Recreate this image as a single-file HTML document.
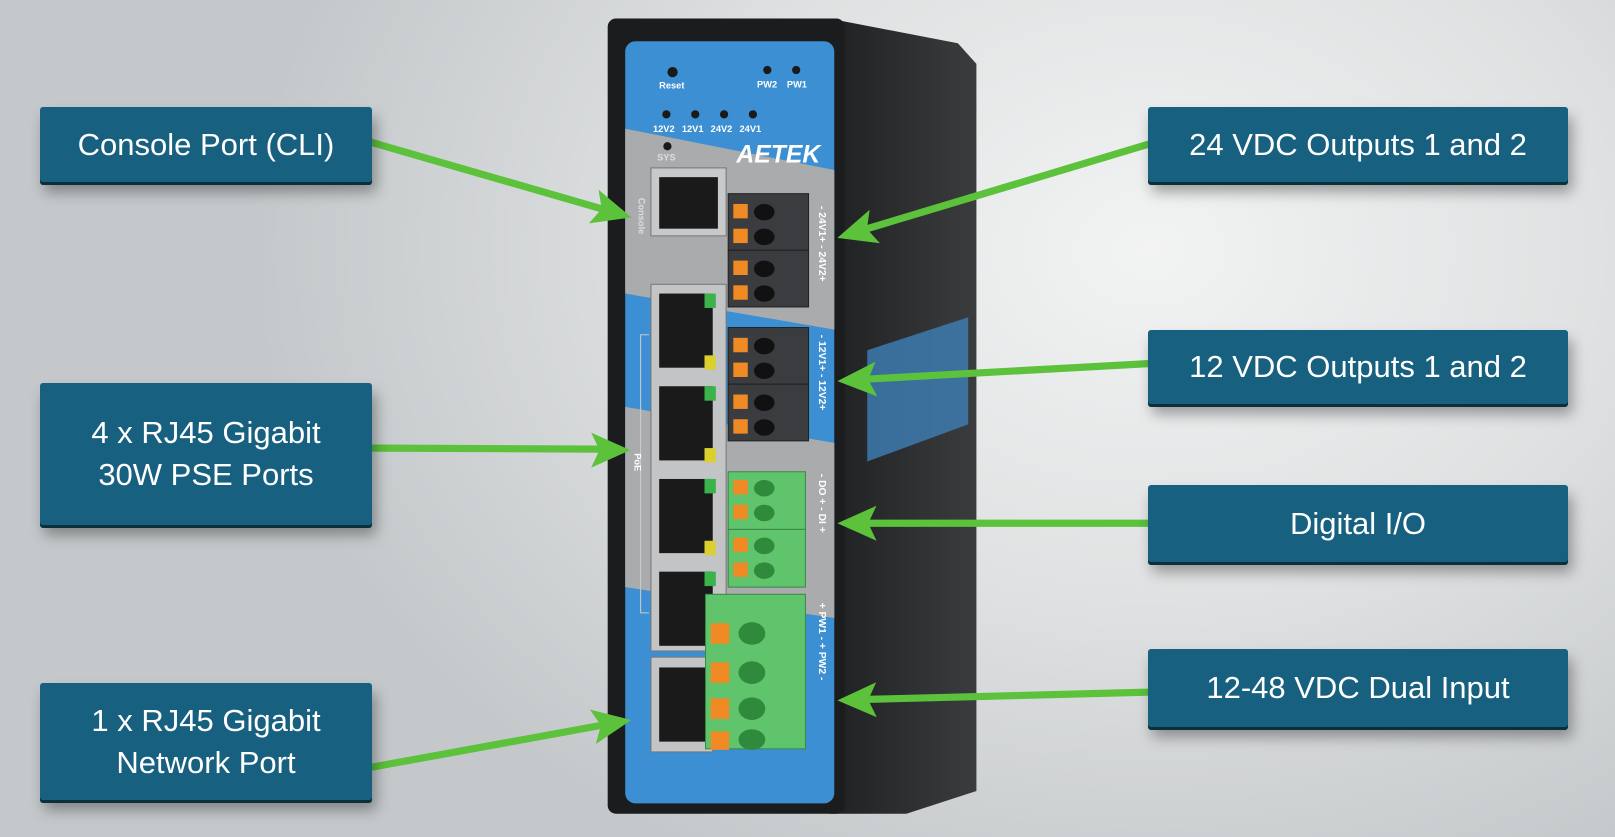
<!DOCTYPE html>
<html><head><meta charset="utf-8"><style>
html,body{margin:0;padding:0}
body{width:1615px;height:837px;position:relative;overflow:hidden;
background:radial-gradient(ellipse 900px 700px at 1150px 250px,#f2f3f3 0%,#dfe1e2 50%,#c4c8ca 100%);
font-family:"Liberation Sans",sans-serif}
svg{position:absolute;left:0;top:0}
.b{position:absolute;background:#17607f;color:#fff;font-size:31px;display:flex;align-items:center;justify-content:center;text-align:center;line-height:42px;border-radius:3px;box-shadow:0 3px 0 #0c2f3d,4px 10px 14px rgba(0,0,0,.35)}
</style></head><body>
<svg width="1615" height="837" viewBox="0 0 1568 812.6" preserveAspectRatio="none">
<defs>
<linearGradient id="side" x1="0" x2="1"><stop offset="0" stop-color="#1e2022"/><stop offset="1" stop-color="#3a3c3e"/></linearGradient>
<marker id="ah" markerWidth="10" markerHeight="10" refX="9" refY="5" orient="auto" markerUnits="userSpaceOnUse" viewBox="0 0 10 10" style="overflow:visible">
</marker>
</defs>
<!-- side body -->
<polygon points="805,18 930,42 948,62 948,768 880,790 805,790" fill="url(#side)"/>
<polygon points="842,340 940,308 940,412 842,448" fill="#3f7fb8" opacity=".8"/>
<!-- bezel -->
<rect x="590" y="18" width="230" height="772" rx="8" fill="#1b1c1e"/>
<!-- blue panel -->
<rect x="607" y="40" width="203" height="740" rx="10" fill="#3c8fd2"/>
<polygon points="607,125 810,165 810,320 607,285" fill="#a9abad"/>
<polygon points="607,395 810,430 810,600 607,570" fill="#a9abad"/>
<!-- LEDs -->
<g fill="#1a1a1a"><circle cx="653" cy="70" r="5"/><circle cx="745" cy="68" r="4"/><circle cx="773" cy="68" r="4"/>
<circle cx="647" cy="111" r="4"/><circle cx="675" cy="111" r="4"/><circle cx="703" cy="111" r="4"/><circle cx="731" cy="111" r="4"/><circle cx="648" cy="142" r="4"/></g>
<g fill="#fff" font-family="Liberation Sans" font-size="9" font-weight="bold">
<text x="640" y="86">Reset</text><text x="735" y="85">PW2</text><text x="764" y="85">PW1</text>
<text x="634" y="128">12V2</text><text x="662" y="128">12V1</text><text x="690" y="128">24V2</text><text x="718" y="128">24V1</text>
<text x="638" y="156" fill="#ddd">SYS</text>
<text x="715" y="158" font-size="24" font-style="italic">AETEK</text></g>
<!-- console port -->
<rect x="632" y="163" width="73" height="66" fill="#c8c9ca" stroke="#777"/>
<rect x="640" y="172" width="57" height="50" fill="#1a1a1a"/>
<!-- poe ports -->
<rect x="632" y="276" width="73" height="356" fill="#c3c4c5" stroke="#777"/>
<g fill="#1a1a1a"><rect x="640" y="285" width="52" height="72"/><rect x="640" y="375" width="52" height="72"/><rect x="640" y="465" width="52" height="72"/><rect x="640" y="555" width="52" height="72"/></g>
<g fill="#3bb34a"><rect x="684" y="285" width="11" height="14"/><rect x="684" y="375" width="11" height="14"/><rect x="684" y="465" width="11" height="14"/><rect x="684" y="555" width="11" height="14"/></g>
<g fill="#d9cf2e"><rect x="684" y="345" width="11" height="14"/><rect x="684" y="435" width="11" height="14"/><rect x="684" y="525" width="11" height="14"/></g>
<path d="M630,325 H622 V595 H630" stroke="#ccc" fill="none"/>
<!-- network port -->
<rect x="632" y="638" width="60" height="92" fill="#c3c4c5" stroke="#777"/>
<rect x="640" y="648" width="45" height="72" fill="#1a1a1a"/>
<!-- black terminal blocks -->
<g fill="#3a3c40" stroke="#222"><rect x="707" y="188" width="78" height="55"/><rect x="707" y="243" width="78" height="55"/><rect x="707" y="318" width="78" height="55"/><rect x="707" y="373" width="78" height="55"/></g>
<!-- green blocks -->
<g fill="#5fc46c" stroke="#3a8a44"><rect x="707" y="458" width="75" height="56"/><rect x="707" y="514" width="75" height="56"/><rect x="685" y="577" width="97" height="150"/></g>
<g fill="#f08a24">
<rect x="712" y="198" width="14" height="14"/><rect x="712" y="222" width="14" height="14"/><rect x="712" y="253" width="14" height="14"/><rect x="712" y="277" width="14" height="14"/>
<rect x="712" y="328" width="14" height="14"/><rect x="712" y="352" width="14" height="14"/><rect x="712" y="383" width="14" height="14"/><rect x="712" y="407" width="14" height="14"/>
<rect x="712" y="466" width="14" height="14"/><rect x="712" y="490" width="14" height="14"/><rect x="712" y="522" width="14" height="14"/><rect x="712" y="546" width="14" height="14"/>
<rect x="690" y="605" width="18" height="20"/><rect x="690" y="643" width="18" height="20"/><rect x="690" y="678" width="18" height="20"/><rect x="690" y="710" width="18" height="18"/></g>
<g fill="#111"><ellipse cx="742" cy="206" rx="10" ry="8"/><ellipse cx="742" cy="230" rx="10" ry="8"/><ellipse cx="742" cy="261" rx="10" ry="8"/><ellipse cx="742" cy="285" rx="10" ry="8"/>
<ellipse cx="742" cy="336" rx="10" ry="8"/><ellipse cx="742" cy="360" rx="10" ry="8"/><ellipse cx="742" cy="391" rx="10" ry="8"/><ellipse cx="742" cy="415" rx="10" ry="8"/></g>
<g fill="#2f8a3c"><ellipse cx="742" cy="474" rx="10" ry="8"/><ellipse cx="742" cy="498" rx="10" ry="8"/><ellipse cx="742" cy="530" rx="10" ry="8"/><ellipse cx="742" cy="554" rx="10" ry="8"/>
<ellipse cx="730" cy="615" rx="13" ry="11"/><ellipse cx="730" cy="653" rx="13" ry="11"/><ellipse cx="730" cy="688" rx="13" ry="11"/><ellipse cx="730" cy="718" rx="13" ry="10"/></g>
<g fill="#fff" font-family="Liberation Sans" font-size="10" font-weight="bold">
<text transform="translate(795,200) rotate(90)">- 24V1+ - 24V2+</text>
<text transform="translate(795,325) rotate(90)">- 12V1+ - 12V2+</text>
<text transform="translate(795,460) rotate(90)">- DO +   - DI +</text>
<text transform="translate(795,585) rotate(90)">+ PW1 -    + PW2 -</text>
<text transform="translate(620,192) rotate(90)" fill="#ddd" font-size="9">Console</text>
<text transform="translate(616,440) rotate(90)" font-size="9">PoE</text></g>
<!-- arrows -->
<g stroke="#5cc13b" stroke-width="7" fill="none" stroke-linecap="round">
<line x1="360" y1="138" x2="585" y2="203"/><line x1="360" y1="435" x2="583" y2="436"/><line x1="360" y1="745" x2="585" y2="704"/>
<line x1="1115" y1="140" x2="842" y2="222"/><line x1="1115" y1="353" x2="842" y2="368"/><line x1="1115" y1="508" x2="842" y2="508"/><line x1="1115" y1="672" x2="842" y2="679"/>
</g>
<g fill="#5cc13b">
<polygon points="0,0 -38,-17 -30,0 -38,17" transform="translate(613,211) rotate(16)"/>
<polygon points="0,0 -38,-17 -30,0 -38,17" transform="translate(612,437) rotate(0)"/>
<polygon points="0,0 -38,-17 -30,0 -38,17" transform="translate(613,699) rotate(-10)"/>
<polygon points="0,0 -38,-17 -30,0 -38,17" transform="translate(813,231) rotate(163)"/>
<polygon points="0,0 -38,-17 -30,0 -38,17" transform="translate(813,370) rotate(177)"/>
<polygon points="0,0 -38,-17 -30,0 -38,17" transform="translate(813,508) rotate(180)"/>
<polygon points="0,0 -38,-17 -30,0 -38,17" transform="translate(813,680) rotate(179)"/>
</g>
</svg>
<div class="b" style="left:40px;top:107px;width:332px;height:75px">Console Port (CLI)</div>
<div class="b" style="left:40px;top:383px;width:332px;height:142px">4 x RJ45 Gigabit<br>30W PSE Ports</div>
<div class="b" style="left:40px;top:683px;width:332px;height:117px">1 x RJ45 Gigabit<br>Network Port</div>
<div class="b" style="left:1148px;top:107px;width:420px;height:75px">24 VDC Outputs 1 and 2</div>
<div class="b" style="left:1148px;top:330px;width:420px;height:74px">12 VDC Outputs 1 and 2</div>
<div class="b" style="left:1148px;top:485px;width:420px;height:77px">Digital I/O</div>
<div class="b" style="left:1148px;top:649px;width:420px;height:78px">12-48 VDC Dual Input</div>
</body></html>
